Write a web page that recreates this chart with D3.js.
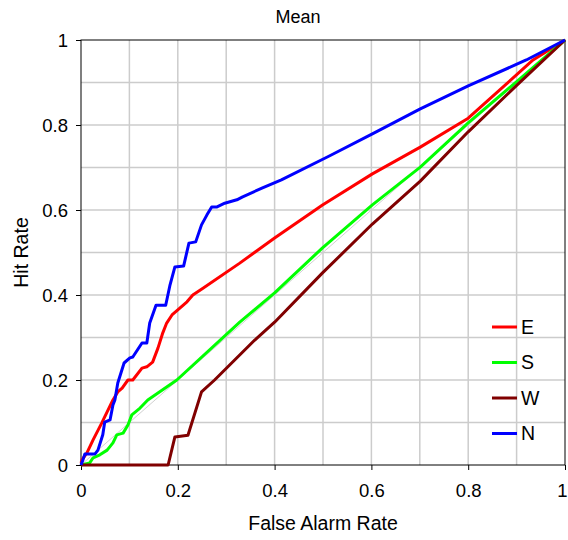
<!DOCTYPE html>
<html>
<head>
<meta charset="utf-8">
<script src="https://cdn.jsdelivr.net/npm/d3@7"></script>
<style>
  body { margin: 0; background: #fff; }
  text { font-family: "Liberation Sans", Arial, sans-serif; fill: #000; }
</style>
</head>
<body>
<div id="chart"></div>
<script>
const width = 568
const height = 540
const margin = {top: 40, right: 2, bottom: 75, left: 81}

// ROC curves, [false alarm rate, hit rate]
const series_names = ["E", "S", "W", "N"]
const series_colours = ["#ff0000", "#00ff00", "#800000", "#0000ff"]
const e_points = [[0,0.005],[0.002,0.012],[0.012,0.028],[0.025,0.059],[0.043,0.099],[0.054,0.125],[0.066,0.153],
	[0.076,0.172],[0.085,0.181],[0.097,0.2],[0.107,0.2],[0.126,0.228],[0.136,0.231],[0.148,0.242],[0.159,0.275],
	[0.169,0.311],[0.177,0.334],[0.188,0.353],[0.2,0.365],[0.219,0.384],[0.231,0.4],[0.252,0.416],[0.328,0.475],
	[0.4,0.534],[0.499,0.612],[0.602,0.685],[0.701,0.748],[0.8,0.816],[0.934,0.953],[1,1]]
const s_points = [[0,0],[0.018,0.005],[0.025,0.017],[0.039,0.024],[0.054,0.035],[0.066,0.052],[0.074,0.071],
	[0.087,0.075],[0.097,0.094],[0.105,0.118],[0.122,0.134],[0.138,0.153],[0.198,0.2],[0.328,0.336],[0.4,0.405],
	[0.499,0.511],[0.602,0.612],[0.701,0.701],[0.8,0.805],[0.899,0.901],[1,1]]
const w_points = [[0,0],[0.18,0],[0.194,0.066],[0.221,0.07],[0.249,0.172],[0.276,0.2],[0.359,0.294],[0.4,0.336],
	[0.499,0.452],[0.602,0.567],[0.701,0.668],[0.8,0.784],[0.899,0.892],[1,1]]
const n_points = [[0,0],[0.004,0.012],[0.008,0.026],[0.029,0.026],[0.035,0.035],[0.045,0.071],[0.049,0.101],
	[0.06,0.106],[0.066,0.141],[0.07,0.153],[0.076,0.193],[0.089,0.24],[0.101,0.252],[0.107,0.254],[0.126,0.287],
	[0.136,0.287],[0.142,0.334],[0.155,0.376],[0.175,0.376],[0.184,0.424],[0.194,0.466],[0.212,0.468],[0.223,0.522],
	[0.237,0.525],[0.249,0.565],[0.26,0.588],[0.27,0.607],[0.28,0.607],[0.297,0.616],[0.322,0.624],[0.334,0.631],
	[0.375,0.652],[0.414,0.671],[0.513,0.727],[0.602,0.779],[0.701,0.838],[0.8,0.892],[0.92,0.953],[1,1]]
const series_points = [e_points, s_points, w_points, n_points]

const major_ticks = [0, 0.2, 0.4, 0.6, 0.8, 1]
const grid_ticks = [0.1, 0.2, 0.3, 0.4, 0.5, 0.6, 0.7, 0.8, 0.9]

var svg = d3.select("#chart").append("svg")
	.attr("width", width)
	.attr("height", height)

var x = d3.scaleLinear().domain([0, 1]).range([margin.left, width - margin.right - 1])
var y = d3.scaleLinear().domain([0, 1]).range([height - margin.bottom, margin.top])

// grid
svg.selectAll(".vgrid")
	.data(grid_ticks)
	.enter().append("line")
	.attr("x1", d => x(d)).attr("x2", d => x(d))
	.attr("y1", y(0)).attr("y2", y(1))
	.style("stroke", "#cccccc")
	.style("stroke-width", "1.5px")
svg.selectAll(".hgrid")
	.data(grid_ticks)
	.enter().append("line")
	.attr("x1", x(0)).attr("x2", x(1))
	.attr("y1", d => y(d)).attr("y2", d => y(d))
	.style("stroke", "#cccccc")
	.style("stroke-width", "1.5px")

// diagonal reference
svg.append("line")
	.attr("x1", x(0)).attr("y1", y(0))
	.attr("x2", x(1)).attr("y2", y(1))
	.style("stroke", "#d0d0d0")
	.style("stroke-width", "1px")

// frame
svg.append("rect")
	.attr("x", x(0)).attr("y", y(1))
	.attr("width", x(1) - x(0)).attr("height", y(0) - y(1))
	.style("fill", "none")
	.style("stroke", "#000")
	.style("stroke-width", "1px")

var xAxis = d3.axisBottom(x).tickValues(major_ticks).tickSize(5).tickPadding(14).tickFormat(d3.format("~g"))
var yAxis = d3.axisLeft(y).tickValues(major_ticks).tickSize(5).tickPadding(8).tickFormat(d3.format("~g"))

svg.append("g")
	.attr("transform", `translate(0,${y(0)})`)
	.call(xAxis)
	.call(g => g.select(".domain").remove())
	.call(g => g.selectAll("text").attr("font-size", "18.5px").attr("font-family", null))
	// last label sits at the window edge; pull it in a little
	.call(g => g.selectAll("text").filter(d => d == 1).attr("dx", "-3"))
svg.append("g")
	.attr("transform", `translate(${x(0)},0)`)
	.call(yAxis)
	.call(g => g.select(".domain").remove())
	.call(g => g.selectAll("text").attr("font-size", "18.5px").attr("font-family", null).attr("dy", "0.35em"))

var line = d3.line().x(d => x(d[0])).y(d => y(d[1]))

svg.selectAll(".curve")
	.data(series_points)
	.enter().append("path")
	.attr("class", "curve")
	.attr("d", d => line(d))
	.style("fill", "none")
	.style("stroke", (d, i) => series_colours[i])
	.style("stroke-width", "3px")
	.style("stroke-linejoin", "round")

// titles
svg.append("text")
	.attr("x", 298).attr("y", 23)
	.attr("text-anchor", "middle")
	.attr("font-size", "18px")
	.text("Mean")
svg.append("text")
	.attr("x", (x(0) + x(1)) / 2).attr("y", 530)
	.attr("text-anchor", "middle")
	.attr("font-size", "19.5px")
	.text("False Alarm Rate")
svg.append("text")
	.attr("transform", `translate(28,${(y(0) + y(1)) / 2}) rotate(-90)`)
	.attr("text-anchor", "middle")
	.attr("font-size", "19.5px")
	.text("Hit Rate")

// legend
var legend = svg.selectAll(".legend")
	.data(series_names)
	.enter().append("g")
	.attr("transform", (d, i) => `translate(492,${327 + i * 35.5})`)
legend.append("line")
	.attr("x1", 0).attr("x2", 25)
	.style("stroke", (d, i) => series_colours[i])
	.style("stroke-width", "3px")
legend.append("text")
	.attr("x", 29).attr("dy", "0.35em")
	.attr("font-size", "19.5px")
	.text(d => d)
</script>
</body>
</html>
